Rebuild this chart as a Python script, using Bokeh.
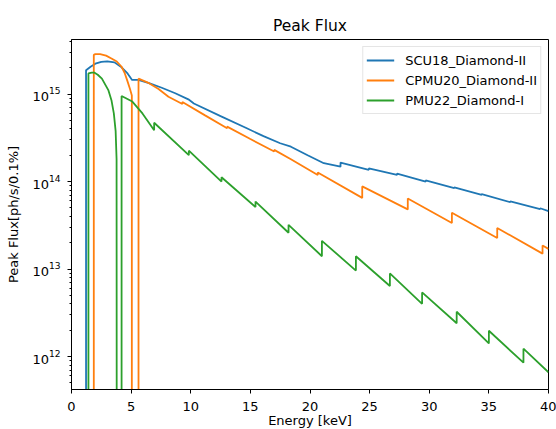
from bokeh.plotting import figure
from bokeh.models import Legend, LegendItem, FixedTicker
from bokeh.embed import file_html
from bokeh.resources import INLINE

# ---- data ----
scu_e = [1.22, 1.22, 1.6, 2.0, 2.5, 3.0, 3.6, 4.2, 4.7, 5.08, 5.6, 6.5, 7.57, 8.7, 9.8, 10.26,
         12.5, 14.7, 16.1, 17.5, 18.4, 19.8, 21.16, 22.56, 22.56, 24.93, 24.93, 27.3, 27.3,
         29.7, 29.7, 32.1, 32.1, 34.4, 34.4, 36.8, 36.8, 39.3, 39.3, 40.0]
scu_f = [1e9, 1.87e15, 2.05e15, 2.22e15, 2.33e15, 2.36e15, 2.3e15, 2.02e15, 1.72e15, 1.45e15,
         1.45e15, 1.33e15, 1.18e15, 1.02e15, 8.7e14, 7.8e14,
         5.6e14, 4.06e14, 3.3e14, 2.74e14, 2.5e14, 2.0e14, 1.62e14, 1.48e14, 1.65e14, 1.36e14,
         1.41e14, 1.19e14, 1.23e14, 1.0e14, 1.03e14, 8.4e13, 8.6e13, 7.05e13, 7.2e13, 5.8e13,
         5.95e13, 4.85e13, 4.95e13, 4.6e13]

cpmu_e = [1.87, 1.87, 2.0, 2.4, 2.9, 3.35, 3.8, 4.2, 4.45, 4.65, 4.9, 5.06, 5.06, 5.62, 5.62,
          6.5, 7.3, 8.13, 9.3, 9.3, 11.2, 13.05, 13.05, 15.0, 17.0, 17.0, 18.4, 20.65, 20.65,
          24.38, 24.38, 28.2, 28.2, 31.9, 31.9, 35.7, 35.7, 39.5, 39.5, 40.0]
cpmu_f = [1e9, 2.8e15, 2.86e15, 2.86e15, 2.75e15, 2.55e15, 2.35e15, 2.05e15, 1.75e15, 1.46e15,
          1.15e15, 9.6e14, 1e9, 1e9, 1.5e15,
          1.33e15, 1.14e15, 9.3e14, 7.7e14, 8.1e14, 5.7e14, 4.06e14, 4.24e14, 3.06e14, 2.2e14,
          2.3e14, 1.8e14, 1.19e14, 1.27e14, 6.5e13, 8.8e13, 4.8e13, 6.4e13, 3.36e13, 4.4e13,
          2.26e13, 2.95e13, 1.5e13, 1.86e13, 1.7e13]

pmu_e = [1.42, 1.42, 1.7, 1.9, 2.2, 2.55, 3.1, 3.35, 3.55, 3.7, 3.78, 3.8, 4.2, 4.2, 5.1, 5.95,
         6.93, 6.93, 9.84, 9.84, 12.58, 12.58, 15.43, 15.43, 18.2, 18.2, 21.0, 21.0, 23.85,
         23.85, 26.7, 26.7, 29.4, 29.4, 32.3, 32.3, 35.0, 35.0, 37.9, 37.9, 40.0]
pmu_f = [1e9, 1.72e15, 1.76e15, 1.76e15, 1.66e15, 1.5e15, 1.1e15, 8.5e14, 6.0e14, 3.8e14,
         1.8e14, 1e9, 1e9, 9.5e14, 8.2e14, 6.0e14,
         3.85e14, 4.7e14, 2.0e14, 2.25e14, 1.0e14, 1.12e14, 5.1e13, 5.9e13, 2.6e13, 3.2e13,
         1.4e13, 2.1e13, 9.6e12, 1.4e13, 6.4e12, 8.9e12, 4.0e12, 5.4e12, 2.4e12, 3.25e12,
         1.41e12, 1.97e12, 8.5e11, 1.23e12, 6.6e11]

series_names = ["SCU18_Diamond-II", "CPMU20_Diamond-II", "PMU22_Diamond-I"]
x_ticks = [0, 5, 10, 15, 20, 25, 30, 35, 40]

FONT = "DejaVu Sans"

p = figure(width=556, height=437, x_range=(0, 40), y_range=(4.2e11, 4.2e15),
           y_axis_type="log", output_backend="svg", toolbar_location=None,
           title="Peak Flux", min_border_left=71, min_border_right=8,
           min_border_top=39, min_border_bottom=48)

p.title.align = "center"
p.title.text_font = FONT
p.title.text_font_size = "15.5px"
p.title.text_font_style = "normal"
p.title.text_color = "black"

p.grid.visible = False
p.outline_line_color = "black"
p.outline_line_width = 1
p.background_fill_color = "white"
p.border_fill_color = "white"

for ax in (p.xaxis[0], p.yaxis[0]):
    ax.axis_line_color = "black"
    ax.major_tick_line_color = "black"
    ax.minor_tick_line_color = "black"
    ax.major_tick_out = 4
    ax.major_tick_in = 0
    ax.minor_tick_out = 2
    ax.minor_tick_in = 0
    ax.major_label_text_font = FONT
    ax.major_label_text_font_size = "13px"
    ax.major_label_text_color = "black"
    ax.axis_label_text_font = FONT
    ax.axis_label_text_font_size = "13px"
    ax.axis_label_text_font_style = "normal"
    ax.axis_label_text_color = "black"

p.xaxis.ticker = FixedTicker(ticks=x_ticks)
p.xaxis.minor_tick_line_color = None
p.xaxis.major_label_standoff = 8
p.xaxis.axis_label = "Energy [keV]"
p.xaxis.axis_label_standoff = -1

p.yaxis.axis_label = "Peak Flux[ph/s/0.1%]"
p.yaxis.axis_label_standoff = 8
p.yaxis.major_label_standoff = 7

colors = ["#1f77b4", "#ff7f0e", "#2ca02c"]
r1 = p.line(scu_e, scu_f, line_color=colors[0], line_width=1.8)
r2 = p.line(cpmu_e, cpmu_f, line_color=colors[1], line_width=1.8)
r3 = p.line(pmu_e, pmu_f, line_color=colors[2], line_width=1.8)

legend = Legend(items=[LegendItem(label=series_names[0], renderers=[r1]),
                       LegendItem(label=series_names[1], renderers=[r2]),
                       LegendItem(label=series_names[2], renderers=[r3])],
                location="top_right")
legend.label_text_font = FONT
legend.label_text_font_size = "13px"
legend.label_text_color = "black"
legend.border_line_color = "#cccccc"
legend.border_line_width = 1
legend.background_fill_alpha = 0.8
legend.margin = 7
legend.padding = 3
legend.spacing = 0
legend.glyph_width = 28
legend.glyph_height = 20
legend.label_height = 20
legend.label_standoff = 11
p.add_layout(legend)

open("out.html", "w").write(file_html(p, INLINE))
